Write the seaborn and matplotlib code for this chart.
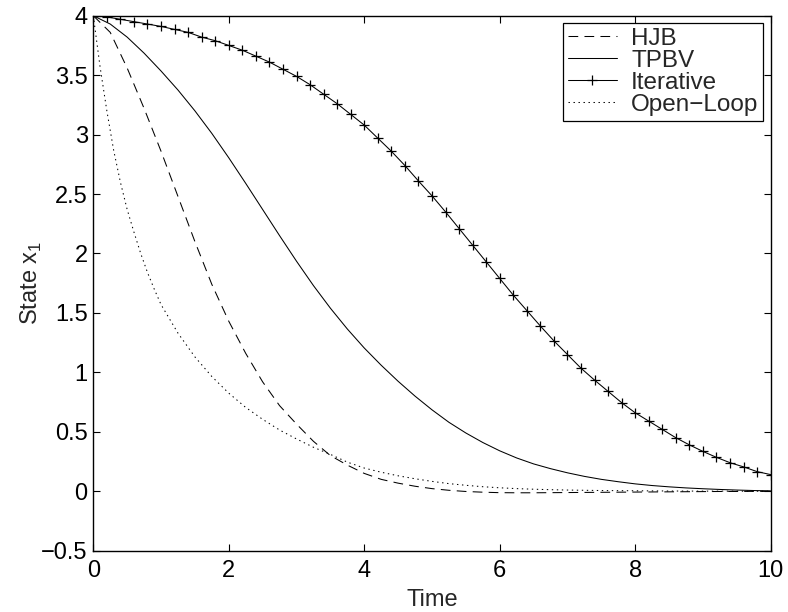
import matplotlib
matplotlib.use("Agg")
import matplotlib.pyplot as plt
from matplotlib.ticker import FuncFormatter
import seaborn as sns

# time grids
t_iter = [round(0.2 * i, 1) for i in range(51)]
t_curve = [round(0.25 * i, 2) for i in range(41)]
t_open = [0.0, 0.1, 0.2, 0.3, 0.4, 0.5, 0.6, 0.7, 0.8, 0.9, 1.0,
          1.25, 1.5, 1.75, 2.0, 2.25, 2.5, 2.75, 3.0, 3.25, 3.5, 3.75,
          4.0, 4.25, 4.5, 4.75, 5.0, 5.25, 5.5, 5.75, 6.0, 6.25, 6.5,
          6.75, 7.0, 7.5, 8.0, 8.5, 9.0, 9.5, 10.0]

# state x1
hjb = [4.00, 3.86, 3.56, 3.22, 2.86, 2.48, 2.10, 1.74, 1.43, 1.16,
       0.92, 0.72, 0.565, 0.42, 0.30, 0.22, 0.15, 0.10, 0.068, 0.042,
       0.022, 0.008, -0.002, -0.008, -0.012, -0.013, -0.013, -0.012, -0.011, -0.010,
       -0.009, -0.008, -0.007, -0.006, -0.005, -0.004, -0.003, -0.002, -0.002, -0.001,
       -0.001]
tpbv = [4.00, 3.93, 3.82, 3.685, 3.535, 3.375, 3.20, 3.01, 2.805, 2.59,
        2.37, 2.15, 1.935, 1.73, 1.54, 1.365, 1.205, 1.06, 0.925, 0.80,
        0.685, 0.58, 0.49, 0.41, 0.34, 0.28, 0.23, 0.19, 0.155, 0.125,
        0.10, 0.08, 0.062, 0.048, 0.037, 0.028, 0.021, 0.015, 0.010, 0.006,
        0.003]
iterative = [4.00, 3.99, 3.97, 3.95, 3.93, 3.91, 3.885, 3.86, 3.82, 3.79,
             3.75, 3.71, 3.66, 3.61, 3.55, 3.49, 3.42, 3.34, 3.26, 3.17,
             3.08, 2.97, 2.86, 2.74, 2.61, 2.485, 2.35, 2.21, 2.07, 1.93,
             1.79, 1.65, 1.52, 1.39, 1.265, 1.15, 1.035, 0.935, 0.84, 0.745,
             0.66, 0.59, 0.52, 0.45, 0.39, 0.335, 0.285, 0.24, 0.205, 0.165,
             0.14]
open_loop = [4.00, 3.57, 3.20, 2.87, 2.60, 2.37, 2.18, 2.00, 1.84, 1.70, 1.57,
             1.33, 1.13, 0.965, 0.825, 0.705, 0.605, 0.515, 0.44, 0.37, 0.31, 0.245,
             0.195, 0.16, 0.13, 0.105, 0.083, 0.064, 0.05, 0.038, 0.029, 0.022, 0.017,
             0.013, 0.010, 0.006, 0.004, 0.002, 0.001, 0.0005, 0.0]

sns.set_style("ticks")
plt.rcParams["font.family"] = ["Liberation Sans", "DejaVu Sans"]
plt.rcParams["mathtext.fontset"] = "custom"
plt.rcParams["mathtext.rm"] = "Liberation Sans"
plt.rcParams["lines.scale_dashes"] = False

fig = plt.figure(figsize=(7.88, 6.12), dpi=100)
ax = fig.add_axes([0.1184, 0.1002, 0.8596, 0.8741])

lw = 0.75
sns.lineplot(x=t_curve, y=hjb, ax=ax, color="k", lw=lw,
             linestyle=(0, (7, 4.5)), label="HJB")
sns.lineplot(x=t_curve, y=tpbv, ax=ax, color="k", lw=lw, label="TPBV")
sns.lineplot(x=t_iter, y=iterative, ax=ax, color="k", lw=lw, marker="+",
             markersize=7, markeredgewidth=0.9, markeredgecolor="k",
             label="Iterative")
sns.lineplot(x=t_open, y=open_loop, ax=ax, color="k", lw=lw,
             linestyle=(0, (1, 2.6)), label="Open\u2212Loop")

ax.set_xlim(0, 10)
ax.set_ylim(-0.5, 4)
ax.set_xticks([0, 2, 4, 6, 8, 10])
ax.set_yticks([-0.5, 0, 0.5, 1, 1.5, 2, 2.5, 3, 3.5, 4])
fmt = FuncFormatter(lambda v, p: f"{v:g}".replace("-", "\u2212"))
ax.xaxis.set_major_formatter(fmt)
ax.yaxis.set_major_formatter(fmt)
ax.tick_params(direction="in", length=5, width=0.8, top=True, right=True,
               labelsize=17, colors="k")
ax.tick_params(axis="x", pad=7)
ax.tick_params(axis="y", pad=4)
for s in ax.spines.values():
    s.set_linewidth(1.0)
    s.set_color("k")

ax.set_xlabel("Time", fontsize=17, labelpad=5)
ax.set_ylabel("State x$_1$", fontsize=17, labelpad=-2)

leg = ax.legend(loc="upper right", fontsize=17.5, frameon=True, fancybox=False,
                edgecolor="k", framealpha=1, borderaxespad=0.3,
                handlelength=2.0, handletextpad=0.6, labelspacing=0.0,
                borderpad=0.2)
leg.get_frame().set_linewidth(0.9)

fig.savefig("out.png", dpi=100)
